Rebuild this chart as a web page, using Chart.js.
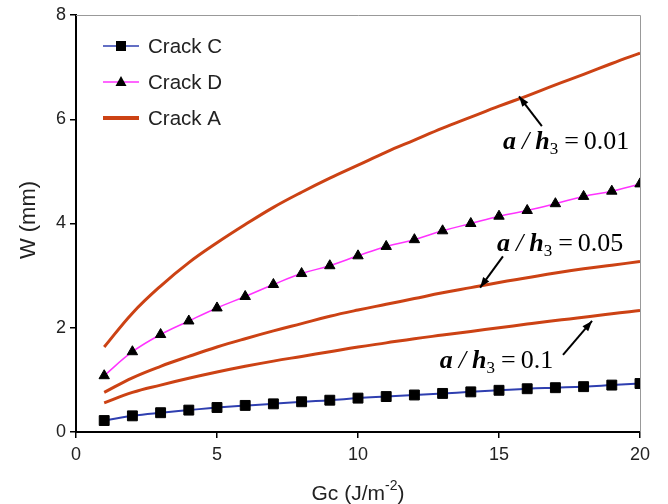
<!DOCTYPE html>
<html>
<head>
<meta charset="utf-8">
<script src="https://cdn.jsdelivr.net/npm/chart.js@4"></script>
<style>
  html, body { margin: 0; padding: 0; background: #fff; }
  #wrap { width: 668px; height: 504px; }
</style>
</head>
<body>
<div id="wrap"><canvas id="chart" width="668" height="504"></canvas></div>
<script>
// Gc values (J/m^-2)
const gc = [1, 2, 3, 4, 5, 6, 7, 8, 9, 10, 11, 12, 13, 14, 15, 16, 17, 18, 19, 20];

// W (mm)
const crackC = [0.22, 0.31, 0.37, 0.42, 0.47, 0.51, 0.54, 0.58, 0.61, 0.65, 0.68, 0.71, 0.74, 0.77, 0.80, 0.83, 0.85, 0.87, 0.90, 0.93];
const crackD = [1.08, 1.54, 1.87, 2.13, 2.38, 2.60, 2.83, 3.04, 3.19, 3.38, 3.56, 3.69, 3.86, 4.00, 4.14, 4.25, 4.38, 4.52, 4.62, 4.76];
const crackA001 = [1.63, 2.28, 2.80, 3.25, 3.63, 3.98, 4.31, 4.60, 4.87, 5.12, 5.37, 5.60, 5.83, 6.04, 6.25, 6.45, 6.66, 6.86, 7.07, 7.27];
const crackA005 = [0.76, 1.04, 1.26, 1.45, 1.63, 1.79, 1.94, 2.08, 2.22, 2.34, 2.45, 2.56, 2.67, 2.77, 2.87, 2.96, 3.05, 3.13, 3.20, 3.27];
const crackA01 = [0.56, 0.76, 0.90, 1.03, 1.15, 1.26, 1.36, 1.45, 1.54, 1.63, 1.71, 1.79, 1.86, 1.93, 2.00, 2.07, 2.14, 2.20, 2.27, 2.33];

const xTicks = [0, 5, 10, 15, 20];
const yTicks = [0, 2, 4, 6, 8];

// annotation labels: [text value, label x, label y, arrow from x, from y, to x, to y] in data units
const notes = [
  ['0.01', 15.14, 5.56, 16.52, 5.87, 15.71, 6.44],
  ['0.05', 14.93, 3.60, 15.14, 3.37, 14.33, 2.77],
  ['0.1', 12.90, 1.35, 17.27, 1.48, 18.30, 2.13]
];

const blue = '#2f3fb0';
const magenta = '#ff33ff';
const orange = '#cc4214';
const sans = '"Liberation Sans", Arial, sans-serif';
const serif = '"Liberation Serif", "Times New Roman", serif';

function pts(ys) {
  return gc.map((x, i) => ({ x: x, y: ys[i] }));
}

const legendItems = [
  { label: 'Crack C', color: blue, width: 1.5, marker: 'rect' },
  { label: 'Crack D', color: magenta, width: 1.5, marker: 'triangle' },
  { label: 'Crack A', color: orange, width: 4, marker: null }
];

const overlay = {
  id: 'overlay',
  afterDraw(chart) {
    const ctx = chart.ctx;
    const a = chart.chartArea;
    const xs = chart.scales.x, ys = chart.scales.y;
    ctx.save();

    // top and right frame
    ctx.strokeStyle = '#999';
    ctx.lineWidth = 1;
    ctx.beginPath();
    ctx.moveTo(a.left, a.top + 0.5);
    ctx.lineTo(a.right + 0.5, a.top + 0.5);
    ctx.lineTo(a.right + 0.5, a.bottom);
    ctx.stroke();

    // legend
    legendItems.forEach((it, i) => {
      const y = 46 + i * 36;
      ctx.strokeStyle = it.color;
      ctx.lineWidth = it.width;
      ctx.beginPath();
      ctx.moveTo(103, y);
      ctx.lineTo(139, y);
      ctx.stroke();
      ctx.fillStyle = '#000';
      if (it.marker === 'rect') {
        ctx.fillRect(116, y - 5, 10, 10);
      } else if (it.marker === 'triangle') {
        ctx.beginPath();
        ctx.moveTo(121, y - 6);
        ctx.lineTo(126.5, y + 4);
        ctx.lineTo(115.5, y + 4);
        ctx.closePath();
        ctx.fill();
      }
      ctx.fillStyle = '#222';
      ctx.font = '20.5px ' + sans;
      ctx.textBaseline = 'middle';
      ctx.textAlign = 'left';
      ctx.fillText(it.label, 148, y + 1);
    });

    // a / h3 = value labels with arrows
    notes.forEach(n => {
      let x = xs.getPixelForValue(n[1]);
      const y = ys.getPixelForValue(n[2]);
      ctx.fillStyle = '#000';
      ctx.textBaseline = 'middle';
      ctx.textAlign = 'left';
      ctx.font = 'italic bold 26px ' + serif;
      ctx.fillText('a', x, y);
      x += ctx.measureText('a').width + 6;
      ctx.font = 'italic 26px ' + serif;
      ctx.fillText('/', x, y);
      x += ctx.measureText('/').width + 6;
      ctx.font = 'italic bold 26px ' + serif;
      ctx.fillText('h', x, y);
      x += ctx.measureText('h').width;
      ctx.font = '17px ' + serif;
      ctx.fillText('3', x, y + 7);
      x += ctx.measureText('3').width + 6;
      ctx.font = '26px ' + serif;
      ctx.fillText('=', x, y);
      x += ctx.measureText('=').width + 5;
      ctx.fillText(n[0], x, y);

      // arrow
      const x1 = xs.getPixelForValue(n[3]), y1 = ys.getPixelForValue(n[4]);
      const x2 = xs.getPixelForValue(n[5]), y2 = ys.getPixelForValue(n[6]);
      ctx.strokeStyle = '#000';
      ctx.lineWidth = 2;
      ctx.beginPath();
      ctx.moveTo(x1, y1);
      ctx.lineTo(x2, y2);
      ctx.stroke();
      const ang = Math.atan2(y2 - y1, x2 - x1);
      ctx.beginPath();
      ctx.moveTo(x2, y2);
      ctx.lineTo(x2 - 11 * Math.cos(ang - 0.35), y2 - 11 * Math.sin(ang - 0.35));
      ctx.lineTo(x2 - 11 * Math.cos(ang + 0.35), y2 - 11 * Math.sin(ang + 0.35));
      ctx.closePath();
      ctx.fill();
    });

    // x axis title with superscript
    ctx.fillStyle = '#222';
    ctx.textBaseline = 'alphabetic';
    ctx.textAlign = 'left';
    ctx.font = '21px ' + sans;
    const t1 = 'Gc (J/m', sup = '-2', t2 = ')';
    const w1 = ctx.measureText(t1).width, w3 = ctx.measureText(t2).width;
    ctx.font = '14px ' + sans;
    const w2 = ctx.measureText(sup).width;
    const tx = (a.left + a.right) / 2 - (w1 + w2 + w3) / 2;
    const ty = 500;
    ctx.font = '21px ' + sans;
    ctx.fillText(t1, tx, ty);
    ctx.font = '14px ' + sans;
    ctx.fillText(sup, tx + w1, ty - 10);
    ctx.font = '21px ' + sans;
    ctx.fillText(t2, tx + w1 + w2, ty);

    // y axis title
    ctx.translate(29, 220);
    ctx.rotate(-Math.PI / 2);
    ctx.textAlign = 'center';
    ctx.textBaseline = 'middle';
    ctx.font = '22px ' + sans;
    ctx.fillText('W (mm)', 0, 0);

    ctx.restore();
  }
};

const tickFont = { family: sans, size: 18 };

new Chart(document.getElementById('chart'), {
  type: 'line',
  data: {
    datasets: [
      { label: 'Crack A 0.01', data: pts(crackA001), borderColor: orange, borderWidth: 3, pointRadius: 0, tension: 0.4 },
      { label: 'Crack A 0.05', data: pts(crackA005), borderColor: orange, borderWidth: 3, pointRadius: 0, tension: 0.4 },
      { label: 'Crack A 0.1', data: pts(crackA01), borderColor: orange, borderWidth: 3, pointRadius: 0, tension: 0.4 },
      { label: 'Crack D', data: pts(crackD), borderColor: magenta, borderWidth: 1.5, tension: 0.4,
        pointStyle: 'triangle', pointRadius: 6, pointBackgroundColor: '#000', pointBorderColor: '#000', pointBorderWidth: 1 },
      { label: 'Crack C', data: pts(crackC), borderColor: blue, borderWidth: 2, tension: 0.4,
        pointStyle: 'rect', pointRadius: 7, pointBackgroundColor: '#000', pointBorderColor: '#000', pointBorderWidth: 1 }
    ]
  },
  options: {
    responsive: false,
    animation: false,
    layout: { padding: { top: 15, right: 28, left: 0, bottom: 0 } },
    plugins: { legend: { display: false }, tooltip: { enabled: false } },
    scales: {
      x: {
        type: 'linear', min: 0, max: 20,
        afterFit: s => { s.height = 72; },
        afterBuildTicks: s => { s.ticks = xTicks.map(v => ({ value: v })); },
        grid: { drawOnChartArea: false, drawTicks: true, tickLength: 6, color: '#000', lineWidth: 1.5 },
        border: { color: '#000', width: 2 },
        ticks: { color: '#222', font: tickFont, padding: 6, maxRotation: 0 }
      },
      y: {
        min: 0, max: 8,
        afterFit: s => { s.width = 76; },
        afterBuildTicks: s => { s.ticks = yTicks.map(v => ({ value: v })); },
        grid: { drawOnChartArea: false, drawTicks: true, tickLength: 6, color: '#000', lineWidth: 1.5 },
        border: { color: '#000', width: 2 },
        ticks: { color: '#222', font: tickFont, padding: 4 }
      }
    }
  },
  plugins: [overlay]
});
</script>
</body>
</html>
